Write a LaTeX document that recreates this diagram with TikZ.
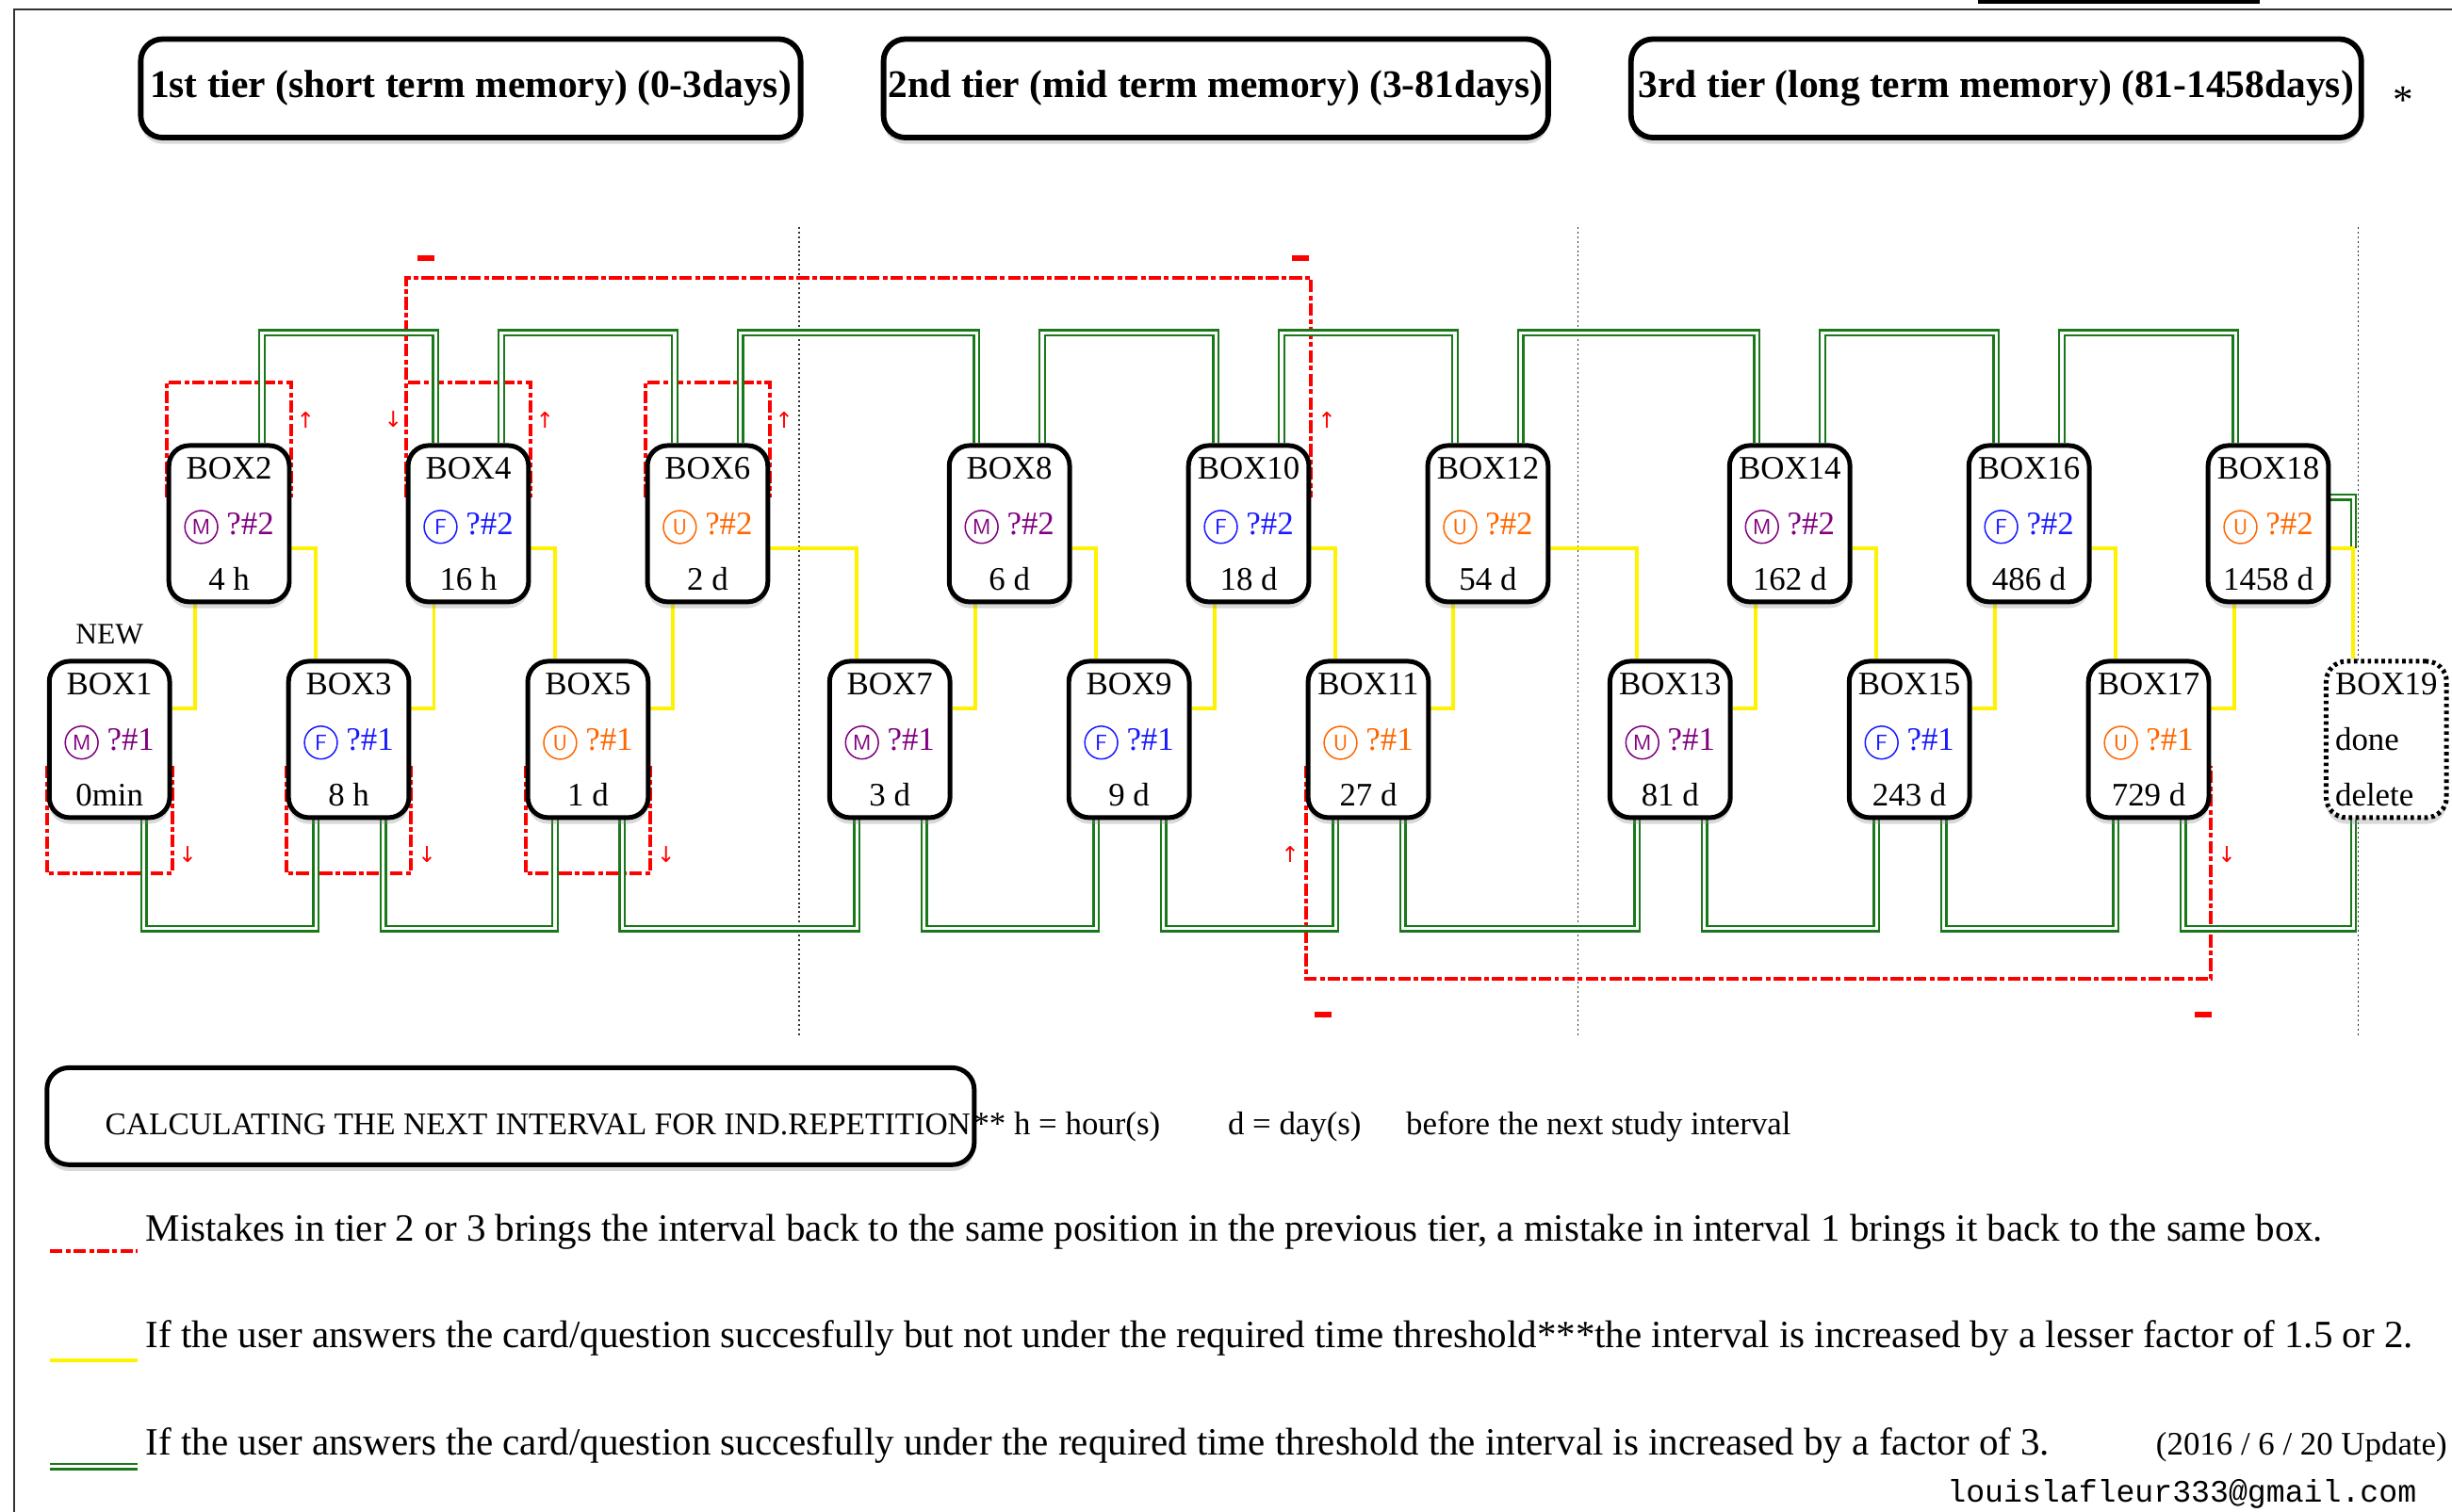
\documentclass[tikz,border=0pt]{standalone}
\usepackage{fontspec}
\setmainfont{Liberation Serif}
\setmonofont{Liberation Mono}
\newfontfamily\dejavu{DejaVu Sans}
\usetikzlibrary{calc,shadows}
\pgfdeclarelayer{bg}
\pgfsetlayers{bg,main}
\definecolor{colM}{RGB}{128,0,128}
\definecolor{colF}{RGB}{25,25,255}
\definecolor{colU}{RGB}{255,102,0}
\definecolor{lgreen}{RGB}{25,120,25}
\definecolor{lyellow}{RGB}{255,242,0}
\newcommand\qmark[2]{\textcolor{col#1}{\tikz[baseline=(cm.base)]\node[circle, draw=col#1, line width=0.9pt,
  minimum size=21pt, inner sep=0pt, font=\sffamily\fontsize{14}{14}\selectfont] (cm) {#1}; ?\##2}}
\begin{document}
\begin{tikzpicture}[x=1pt, y=-1pt, line join=miter,
  boxn/.style={draw, line width=3pt, rounded corners=13pt, fill=white, minimum width=77pt, minimum height=100pt,
    inner sep=0pt, align=center, font=\fontsize{21}{35.5}\selectfont,
    drop shadow={shadow xshift=0pt, shadow yshift=-4pt, opacity=0.3}},
  hdr/.style={draw, line width=3.5pt, rounded corners=14pt, fill=white, inner sep=0pt, minimum height=63pt,
    font=\bfseries\fontsize{25}{25}\selectfont, drop shadow={shadow xshift=0pt, shadow yshift=-4pt, opacity=0.3}},
  rline/.style={red, line width=2.4pt, dash pattern=on 8pt off 2pt on 3pt off 2pt},
  gline/.style={draw=lgreen, line width=1.4pt, double=white, double distance=2pt},
  yline/.style={draw=lyellow, line width=2.4pt},
  sepline/.style={black!80, line width=0.9pt, dash pattern=on 1.2pt off 1.8pt},
  arr/.style={text=red, inner sep=0pt, font=\dejavu\fontsize{14}{14}\selectfont},
  mk/.style={fill=red, inner sep=0pt, minimum width=11pt, minimum height=3.5pt},
  txt/.style={inner sep=0pt, anchor=base west, font=\fontsize{24.7}{24.7}\selectfont}]
\useasboundingbox (0,0) rectangle (1568,967);
% frame
\draw[black!80, line width=1pt] (9,967) -- (9,6) -- (1568,6);
\draw[line width=3pt] (1265,1) -- (1445,1);

% tiers
\node[hdr, minimum width=422pt] (tier1) at (301,56.5) {1st tier (short term memory) (0-3days)};
\node[hdr, minimum width=425pt] (tier2) at (777.5,56.5) {2nd tier (mid term memory) (3-81days)};
\node[hdr, minimum width=467pt] (tier3) at (1276.5,56.5) {3rd tier (long term memory) (81-1458days)};
\node[font=\fontsize{26}{26}\selectfont] (star) at (1537,64) {*};

% boxes
\foreach \k/\lab/\tm in {1/M/0min, 2/M/4 h, 3/F/8 h, 4/F/16 h, 5/U/1 d, 6/U/2 d, 7/M/3 d, 8/M/6 d, 9/F/9 d,
  10/F/18 d, 11/U/27 d, 12/U/54 d, 13/M/81 d, 14/M/162 d, 15/F/243 d, 16/F/486 d, 17/U/729 d, 18/U/1458 d}{
  \pgfmathsetmacro\xx{70+76.5*(\k-1)+40*min(floor((\k-1)/6),2)}
  \pgfmathsetmacro\yy{mod(\k,2)==1 ? 473 : 335}
  \pgfmathtruncatemacro\q{2-mod(\k,2)}
  \node[boxn] (b\k) at (\xx,\yy) {BOX\k\\\qmark{\lab}{\q}\\\tm};
}
\node[boxn, dash pattern=on 2.2pt off 2.2pt, align=left] (b19) at (1526,473) {BOX19\\done\\delete};
\node[font=\fontsize{19}{19}\selectfont] (new) at ($(b1.north)+(0,-16)$) {NEW};

\begin{pgfonlayer}{bg}
\foreach \xs in {511,1009,1508} \draw[sepline] (\xs,145) -- (\xs,662);
\coordinate (gtop) at (0,213);
\coordinate (gbot) at (0,594);
\coordinate (rtop) at (0,178);
\coordinate (rbot) at (0,626);
% mistakes
\foreach \k in {2,4,6}
  \draw[rline] ($(b\k.west)+(0,-17)$) |- ($(b\k.north)+(0,-39)$) -| ($(b\k.east)+(0,-17)$);
\foreach \k in {1,3,5}
  \draw[rline] ($(b\k.west)+(0,17)$) |- ($(b\k.south)+(0,34)$) -| ($(b\k.east)+(0,17)$);
\path ($(b4.west)+(0,-17)$) coordinate (r4) ($(b10.east)+(0,-17)$) coordinate (r10)
  ($(b11.west)+(0,17)$) coordinate (r11) ($(b17.east)+(0,17)$) coordinate (r17);
\coordinate (rc1) at (r4 |- rtop);
\coordinate (rc2) at (r10 |- rtop);
\coordinate (rc3) at (r11 |- rbot);
\coordinate (rc4) at (r17 |- rbot);
\draw[rline] (r4) -- (rc1) -- (rc2) -- (r10);
\draw[rline] (r11) -- (rc3) -- (rc4) -- (r17);
% factor 3
\foreach \k in {2,4,...,16}{
  \pgfmathtruncatemacro\nb{\k+2}
  \path ($(b\k.north east)+(-19,0)$) coordinate (gs) ($(b\nb.north west)+(19,0)$) coordinate (ge);
  \draw[gline] (gs) -- (gs |- gtop) -| (ge);
}
\foreach \k in {1,3,...,17}{
  \pgfmathtruncatemacro\nb{\k+2}
  \path ($(b\k.south east)+(-18,0)$) coordinate (gs) ($(b\nb.south west)+(19,0)$) coordinate (ge);
  \draw[gline] (gs) -- (gs |- gbot) -| (ge);
}
\path ($(b19.north west)+(19,0)$) coordinate (t19) ($(b18.east)+(0,16)$) coordinate (s18);
\draw[gline] ($(b18.east)+(0,-17)$) -| (t19 |- s18);
% factor 1.5 or 2
\foreach \k in {1,...,18}{
  \pgfmathtruncatemacro\nb{\k+1}
  \ifodd\k
    \draw[yline] ($(b\k.east)+(0,-20)$) -| ($(b\nb.south west)+(18,0)$);
  \else
    \draw[yline] ($(b\k.east)+(0,16)$) -| ($(b\nb.north west)+(19,0)$);
  \fi
}
\end{pgfonlayer}

\foreach \k in {2,4,6} \node[arr] (a\k) at ($(b\k.north east)+(9,-15)$) {↑};
\foreach \k in {1,3,5} \node[arr] (a\k) at ($(b\k.south east)+(10,22)$) {↓};
\node[arr] (a4l) at ($(b4.north west)+(-8,-15)$) {↓};
\node[arr] (a10) at ($(b10.north east)+(10,-15)$) {↑};
\node[arr] (a11) at ($(b11.south west)+(-10,22)$) {↑};
\node[arr] (a17) at ($(b17.south east)+(10,22)$) {↓};
\node[mk] (m1) at ($(rc1)+(13,-13)$) {};
\node[mk] (m2) at ($(rc2)+(-7,-13)$) {};
\node[mk] (m3) at ($(rc3)+(11,23)$) {};
\node[mk] (m4) at ($(rc4)+(-5,23)$) {};

% legend
\node[hdr, line width=3pt, minimum width=593pt, minimum height=62pt] (calc) at (326.5,714) {};
\node[txt, font=\fontsize{20.2}{20.2}\selectfont] (calctxt) at (67,726) {CALCULATING THE NEXT INTERVAL FOR IND.REPETITION};
\node[txt, font=\fontsize{21}{21}\selectfont] (hr) at (622,726) {** h = hour(s)};
\node[txt, font=\fontsize{21}{21}\selectfont] (dy) at (785,726) {d = day(s)};
\node[txt, font=\fontsize{21}{21}\selectfont] (bf) at (899,726) {before the next study interval};
\node[txt] (l1) at (93,794) {Mistakes in tier 2 or 3 brings the interval back to the same position in the previous tier, a mistake in interval 1 brings it back to the same box.};
\node[txt] (l2) at (93,862) {If the user answers the card/question succesfully but not under the required time threshold***the interval is increased by a lesser factor of 1.5 or 2.};
\node[txt] (l3) at (93,931) {If the user answers the card/question succesfully under the required time threshold the interval is increased by a factor of 3.};
\node[txt, anchor=base east, font=\fontsize{21}{21}\selectfont] (upd) at (1565,931) {(2016 / 6 / 20 Update)};
\node[txt, font=\ttfamily\fontsize{20}{20}\selectfont] (mail) at (1245,961) {louislafleur333@gmail.com};
\path (32,800) coordinate (kr1) (88,800) coordinate (kr2)
  (32,870) coordinate (ky1) (88,870) coordinate (ky2)
  (32,938) coordinate (kg1) (88,938) coordinate (kg2);
\draw[rline] (kr1) -- (kr2);
\draw[yline] (ky1) -- (ky2);
\draw[gline] (kg1) -- (kg2);
\end{tikzpicture}
\end{document}
